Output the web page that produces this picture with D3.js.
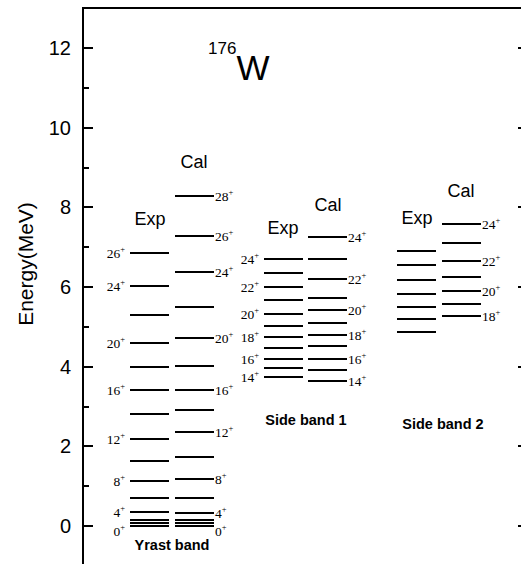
<!DOCTYPE html>
<html>
<head>
<meta charset="utf-8">
<script src="https://cdn.jsdelivr.net/npm/d3@7"></script>
<style>
  body { margin: 0; background: #fff; }
  svg { display: block; }
</style>
</head>
<body>
<div id="chart"></div>
<script>
// level energies (MeV)
const yrastExp = [0, 0.07, 0.14, 0.34, 0.70, 1.14, 1.64, 2.18, 2.80, 3.41, 3.98, 4.60, 5.29, 6.03, 6.86];
const yrastExpSpin = ["0", "", "", "4", "", "8", "", "12", "", "16", "", "20", "", "24", "26"];
const yrastCal = [0, 0.07, 0.14, 0.32, 0.70, 1.18, 1.74, 2.35, 2.91, 3.41, 4.02, 4.72, 5.51, 6.37, 7.29, 8.29];
const yrastCalSpin = ["0", "", "", "4", "", "8", "", "12", "", "16", "", "20", "", "24", "26", "28"];
const side1Exp = [3.74, 3.96, 4.20, 4.46, 4.75, 5.03, 5.33, 5.67, 6.00, 6.36, 6.70];
const side1ExpSpin = ["14", "", "16", "", "18", "", "20", "", "22", "", "24"];
const side1Cal = [3.65, 3.91, 4.20, 4.53, 4.80, 5.09, 5.42, 5.73, 6.20, 6.71, 7.25];
const side1CalSpin = ["14", "", "16", "", "18", "", "20", "", "22", "", "24"];
const side2Exp = [4.88, 5.20, 5.50, 5.82, 6.18, 6.54, 6.90];
const side2Cal = [5.27, 5.58, 5.90, 6.26, 6.65, 7.10, 7.57];
const side2CalSpin = ["18", "", "20", "", "22", "", "24"];

const yTicks = [0, 2, 4, 6, 8, 10, 12];

const w = 521;
const h = 564;

const xScale = d3.scaleLinear().domain([0, 100]).range([83, 528]).interpolate(d3.interpolateRound);
const yScale = d3.scaleLinear().domain([0, 12]).range([526, 48]).interpolate(d3.interpolateRound);

const svg = d3.select("#chart")
    .append("svg")
    .attr("width", w)
    .attr("height", h);

// frame: left axis, top line, right axis (mostly off the page)
const x0 = xScale(0), x1 = xScale(100);
const yTop = yScale(13), yBot = yScale(-1);
svg.append("path")
    .attr("d", `M${x0},${yBot}V${yTop}H${x1}V${yBot}`)
    .attr("fill", "none")
    .attr("stroke", "#000")
    .attr("stroke-width", 2);

// ticks pointing inward on the left and right
const minors = d3.range(1, 13, 2);
const tickG = svg.append("g").attr("stroke", "#000").attr("stroke-width", 2);
yTicks.forEach(v => {
    tickG.append("line").attr("x1", x0).attr("x2", x0 + 10).attr("y1", yScale(v)).attr("y2", yScale(v));
    tickG.append("line").attr("x1", x1).attr("x2", x1 - 10).attr("y1", yScale(v)).attr("y2", yScale(v));
});
minors.forEach(v => {
    tickG.append("line").attr("x1", x0).attr("x2", x0 + 6).attr("y1", yScale(v)).attr("y2", yScale(v));
    tickG.append("line").attr("x1", x1).attr("x2", x1 - 6).attr("y1", yScale(v)).attr("y2", yScale(v));
});

svg.append("g")
    .selectAll("text")
    .data(yTicks)
    .enter()
    .append("text")
    .attr("x", x0 - 12)
    .attr("y", d => yScale(d) + 7)
    .attr("text-anchor", "end")
    .style("font-family", "Liberation Sans, Arial, sans-serif")
    .style("font-size", "20px")
    .text(d => d);

svg.append("text")
    .attr("transform", "translate(33,264) rotate(-90)")
    .attr("text-anchor", "middle")
    .style("font-family", "Liberation Sans, Arial, sans-serif")
    .style("font-size", "21px")
    .text("Energy(MeV)");

// nucleus label
const title = svg.append("text")
    .attr("x", 208)
    .attr("y", 80)
    .style("font-family", "Liberation Sans, Arial, sans-serif");
title.append("tspan").attr("dy", -26).style("font-size", "17px").text("176");
title.append("tspan").attr("dy", 26).style("font-size", "35px").text("W");

// level columns
const columns = [
    { pos: 15, levels: yrastExp, spins: yrastExpSpin, side: "left" },
    { pos: 25, levels: yrastCal, spins: yrastCalSpin, side: "right" },
    { pos: 45, levels: side1Exp, spins: side1ExpSpin, side: "left" },
    { pos: 55, levels: side1Cal, spins: side1CalSpin, side: "right" },
    { pos: 75, levels: side2Exp, spins: null, side: "left" },
    { pos: 85, levels: side2Cal, spins: side2CalSpin, side: "right" }
];
const half = 4.4;

columns.forEach(col => {
    const g = svg.append("g");
    g.selectAll("line")
        .data(col.levels)
        .enter()
        .append("line")
        .attr("x1", xScale(col.pos - half))
        .attr("x2", xScale(col.pos + half))
        .attr("y1", d => yScale(d))
        .attr("y2", d => yScale(d))
        .attr("stroke", "#000")
        .attr("stroke-width", 2);

    if (!col.spins) return;
    col.levels.forEach((e, i) => {
        const s = col.spins[i];
        if (!s) return;
        const yy = yScale(e) + (s === "0" ? 10 : 4.5);
        const t = g.append("text")
            .attr("y", yy)
            .style("font-family", "Liberation Serif, Times New Roman, serif")
            .style("font-size", "13.5px");
        if (col.side === "left") {
            t.attr("x", xScale(col.pos - half) - 5).attr("text-anchor", "end");
        } else {
            t.attr("x", xScale(col.pos + half) + 1).attr("text-anchor", "start");
        }
        t.append("tspan").text(s);
        t.append("tspan").attr("dy", -6).style("font-size", "8.5px").text("+");
    });
});

// column headers
const headers = [
    { pos: 15, y: 225, text: "Exp" },
    { pos: 25, y: 168, text: "Cal" },
    { pos: 45, y: 234, text: "Exp" },
    { pos: 55, y: 211, text: "Cal" },
    { pos: 75, y: 224, text: "Exp" },
    { pos: 85, y: 197, text: "Cal" }
];
svg.append("g")
    .selectAll("text")
    .data(headers)
    .enter()
    .append("text")
    .attr("x", d => xScale(d.pos))
    .attr("y", d => d.y)
    .attr("text-anchor", "middle")
    .style("font-family", "Liberation Sans, Arial, sans-serif")
    .style("font-size", "18px")
    .text(d => d.text);

// band names
const bands = [
    { pos: 20, y: 550, text: "Yrast band" },
    { pos: 50, y: 425, text: "Side band 1" },
    { pos: 81, y: 429, text: "Side band 2" }
];
svg.append("g")
    .selectAll("text")
    .data(bands)
    .enter()
    .append("text")
    .attr("x", d => xScale(d.pos))
    .attr("y", d => d.y)
    .attr("text-anchor", "middle")
    .style("font-family", "Liberation Sans, Arial, sans-serif")
    .style("font-size", "14.5px")
    .style("font-weight", "bold")
    .text(d => d.text);
</script>
</body>
</html>
